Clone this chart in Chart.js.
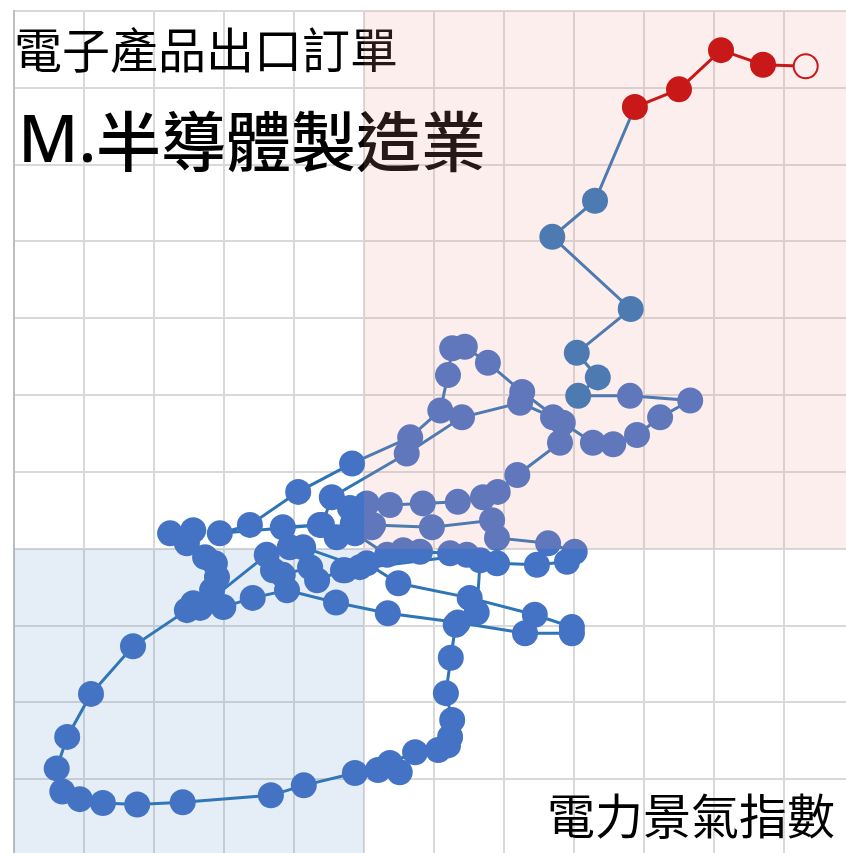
<!DOCTYPE html>
<html lang="zh-Hant">
<head>
<meta charset="utf-8">
<title>電子產品出口訂單 - M.半導體製造業</title>
<script src="https://cdn.jsdelivr.net/npm/chart.js@4.4.1/dist/chart.umd.min.js"></script>
<style>
    html, body { margin: 0; padding: 0; background: #fff; overflow: hidden; }
    #wrap { width: 854px; height: 856px; }
</style>
</head>
<body>
<div id="wrap"><canvas id="cycleChart" width="854" height="856"></canvas></div>
<script>
'use strict';

// ============================================================
// 資料 (依時間順序, x = 電力景氣指數, y = 電子產品出口訂單)
// ============================================================

const electricityIndex = [
    97.56, 97.23, 97.47, 97.73, 97.87, 97.90, 97.83, 97.56, 97.47, 96.70,
    96.10, 95.76, 95.61, 95.69, 95.94, 96.27, 96.76, 97.41, 98.67, 99.14,
    99.87, 100.20, 100.51, 100.37, 100.73, 101.06, 101.20, 101.23, 101.26, 101.17,
    101.24, 101.31, 101.61, 101.66, 101.90, 102.47, 102.90, 103.01, 102.63, 101.90,
    101.83, 100.97, 100.13, 99.84, 99.61, 99.40, 99.54, 100.61, 101.40, 102.23,
    102.70, 102.80, 102.19, 101.91, 101.70, 101.34, 100.84, 100.37, 100.04, 99.80,
    99.99, 100.11, 99.87, 100.33, 100.56, 100.80, 101.23, 101.47, 99.73, 100.04,
    100.49, 101.51, 102.44, 102.97, 102.97, 102.30, 101.34, 100.34, 99.60, 98.90,
    98.41, 97.99, 97.66, 98.61, 98.70, 98.84, 99.23, 99.33, 99.70, 99.94,
    99.13, 98.94, 98.84, 99.37, 97.94, 98.37, 99.06, 99.83, 100.66, 101.09,
    101.20, 101.26, 101.44, 101.77, 102.26, 102.84, 103.27, 103.56, 103.90, 104.23,
    104.66, 103.80, 103.06, 103.34, 103.04, 103.81, 102.69, 103.30, 103.87, 104.50,
    105.10, 105.70, 106.31
];

const exportOrders = [
    100.24, 100.20, 100.07, 99.89, 99.81, 99.63, 99.46, 99.29, 99.20, 98.73,
    98.11, 97.55, 97.14, 96.84, 96.74, 96.69, 96.67, 96.70, 96.79, 96.92,
    97.08, 97.12, 97.09, 97.21, 97.35, 97.38, 97.44, 97.55, 97.77, 98.12,
    98.58, 99.01, 99.17, 99.85, 99.81, 99.79, 99.83, 99.96, 100.07, 100.14,
    100.37, 100.28, 100.31, 100.33, 100.15, 100.31, 100.67, 101.24, 101.71, 101.90,
    101.71, 101.38, 100.96, 100.74, 100.67, 100.61, 100.59, 100.57, 100.59, 100.53,
    100.50, 100.28, 100.20, 99.92, 99.98, 99.96, 99.94, 99.92, 99.72, 99.81,
    99.55, 99.36, 99.14, 98.98, 98.90, 98.90, 99.04, 99.16, 99.30, 99.46,
    99.36, 99.24, 99.23, 99.92, 99.72, 99.66, 99.76, 99.59, 99.72, 99.76,
    100.02, 100.02, 100.28, 100.31, 100.20, 100.31, 100.74, 101.11, 101.45, 101.80,
    102.26, 102.61, 102.63, 102.42, 102.04, 101.64, 101.38, 101.36, 101.48, 101.71,
    101.93, 101.99, 101.99, 102.23, 102.55, 103.12, 104.06, 104.53, 105.75, 105.98,
    106.49, 106.30, 106.28
];

// 軸範圍與分界 (100 = 景氣中線)
const xRange = [95, 107];
const yRange = [96, 107];
const centerValue = 100;

// 最近期資料點數
const recentCount = 11;   // 含紅色 5 點
const redCount = 5;

// 文字
const titleLines = ['電子產品出口訂單', 'M.', '半導體製造業'];
const xAxisLabel = '電力景氣指數';

// ============================================================
// 樣式
// ============================================================

const COLORS = {
    point: '#4472C4',
    recent: '#2E75B6',
    line: '#2E75B6',
    red: '#C00000',
    grid: '#D9D9D9',
    border: '#BFBFBF',
    pinkZone: 'rgba(240, 150, 150, 0.16)',
    blueZone: 'rgba(70, 130, 200, 0.14)'
};

const total = electricityIndex.length;
const firstRecent = total - recentCount;
const firstRed = total - redCount;

const points = electricityIndex.map((x, i) => ({ x, y: exportOrders[i] }));

function pointColor(i) {
    if (i === total - 1) return '#FFFFFF';
    if (i >= firstRed) return COLORS.red;
    if (i >= firstRecent) return COLORS.recent;
    return COLORS.point;
}

// 文字與景氣區塊 (區塊疊在最上層)
const zonePlugin = {
    id: 'zones',
    afterDatasetsDraw(chart) {
        const { ctx, chartArea: a, scales } = chart;
        const cx = scales.x.getPixelForValue(centerValue);
        const cy = scales.y.getPixelForValue(centerValue);

        ctx.save();
        ctx.fillStyle = '#000';
        ctx.textBaseline = 'middle';
        ctx.textAlign = 'left';
        ctx.font = '48px "Noto Sans CJK TC"';
        ctx.fillText(titleLines[0], a.left, 50);
        ctx.font = '500 66px "Noto Sans"';
        ctx.fillText(titleLines[1], a.left + 4, 143);
        ctx.font = '500 65px "Noto Sans CJK TC"';
        ctx.fillText(titleLines[2], 96, 141);
        ctx.textAlign = 'right';
        ctx.font = '48px "Noto Sans CJK TC"';
        ctx.fillText(xAxisLabel, 835, 816);

        ctx.fillStyle = COLORS.pinkZone;
        ctx.fillRect(cx, a.top, a.right - cx, cy - a.top);
        ctx.fillStyle = COLORS.blueZone;
        ctx.fillRect(a.left, cy, cx - a.left, a.bottom - cy);
        ctx.restore();
    }
};

new Chart(document.getElementById('cycleChart'), {
    type: 'scatter',
    data: {
        datasets: [{
            data: points,
            showLine: true,
            borderWidth: 3,
            borderColor: COLORS.line,
            tension: 0,
            segment: {
                borderColor: c => c.p0DataIndex >= firstRed ? COLORS.red : COLORS.line
            },
            pointRadius: c => c.dataIndex === total - 1 ? 12 : 13,
            pointBackgroundColor: c => pointColor(c.dataIndex),
            pointBorderColor: c => c.dataIndex >= firstRed ? COLORS.red : pointColor(c.dataIndex),
            pointBorderWidth: c => c.dataIndex === total - 1 ? 2 : 0
        }]
    },
    options: {
        responsive: false,
        animation: false,
        layout: { autoPadding: false, padding: { left: 14, top: 11, right: 0, bottom: 0 } },
        plugins: {
            legend: { display: false },
            tooltip: { enabled: false }
        },
        scales: {
            x: {
                type: 'linear',
                min: xRange[0],
                max: xRange[1],
                ticks: { display: false, stepSize: 1 },
                grid: { color: COLORS.grid, lineWidth: 2, drawTicks: false },
                border: { display: false }
            },
            y: {
                type: 'linear',
                min: yRange[0],
                max: yRange[1],
                ticks: { display: false, stepSize: 1 },
                grid: { color: COLORS.grid, lineWidth: 2, drawTicks: false },
                border: { color: COLORS.border, width: 2 }
            }
        }
    },
    plugins: [zonePlugin]
});
</script>
</body>
</html>
